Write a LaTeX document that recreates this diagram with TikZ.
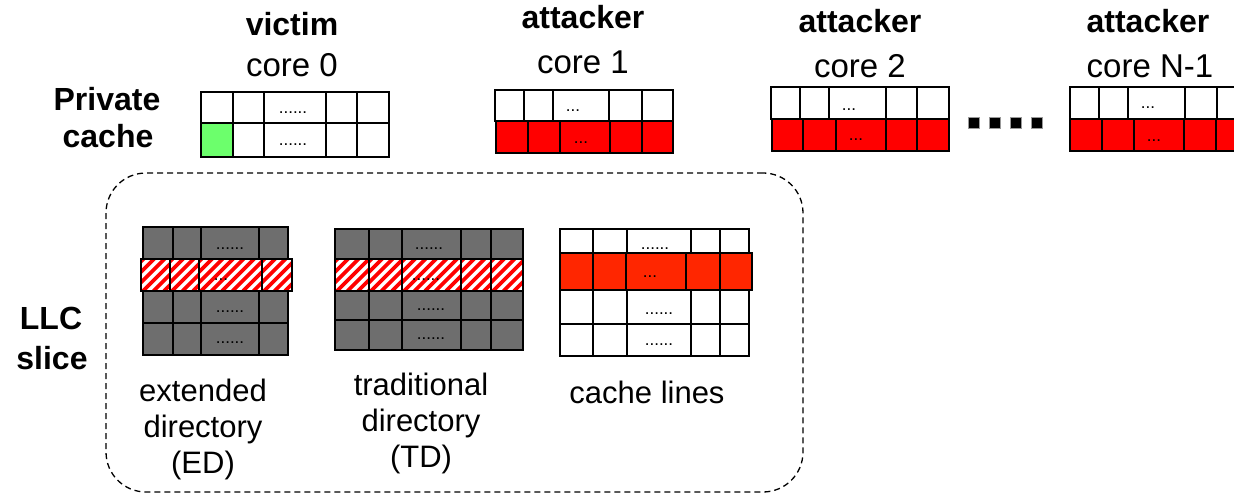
\documentclass[tikz,border=0pt]{standalone}
\usepackage{fontspec}
\setmainfont{Liberation Sans}
\definecolor{cellgray}{RGB}{110,110,110}
\definecolor{hitred}{RGB}{255,0,0}
\definecolor{llcred}{RGB}{255,38,0}
\definecolor{vicgreen}{RGB}{108,255,108}

% a row of cache cells: #1 top, #2 bottom, #3 fill, #4 list of left/right x pairs
\newcommand\cellrow[4]{%
  \foreach \xa/\xb in {#4} {\draw[cellline, fill=#3] (\xa,#1) rectangle (\xb,#2);}}
% a row of red/white hatched directory entries
\newcommand\hatchrow[3]{%
  \foreach \xa/\xb in {#3} {%
    \begin{scope}
      \clip (\xa,#1) rectangle (\xb,#2);
      \fill[white] (\xa,#1) rectangle (\xb,#2);
      \foreach \k in {0,...,12} {\draw[hatch] ({\xa-40+\k*10.5},#2) -- ++(45,-45);}
    \end{scope}
    \draw[cellline] (\xa,#1) rectangle (\xb,#2);}}

\begin{document}
\begin{tikzpicture}[x=1pt,y=-1pt,
  cellline/.style={draw=black, line width=1.8pt},
  hatch/.style={draw=hitred, line width=3.8pt},
  dotlab/.style={inner sep=0pt, font=\fontsize{17}{17}\selectfont},
  boldlab/.style={anchor=base, inner sep=0pt, font=\fontsize{32}{36}\selectfont\bfseries},
  corelab/.style={anchor=base, inner sep=0pt, font=\fontsize{33}{38}\selectfont},
  partlab/.style={anchor=base, inner sep=0pt, font=\fontsize{31}{36}\selectfont},
  llcframe/.style={draw=black, line width=1.3pt, dash pattern=on 6pt off 4pt,
    rounded corners=40pt, inner sep=0pt}]
\useasboundingbox (0,0) rectangle (1234,494);
\clip (0,0) rectangle (1234,494);

% ---------- private caches ----------
% core 0 (victim)
\cellrow{92}{123}{white}{201/233,233/264,264/326,326/357,357/389}
\cellrow{123}{157}{white}{201/233,233/264,264/326,326/357,357/389}
\draw[cellline, fill=vicgreen] (201,123) rectangle (233,157);
\node[dotlab] (d0a) at (293,113) {......};
\node[dotlab] (d0b) at (293,145) {......};

% core 1
\cellrow{90}{121}{white}{495/524,524/553,553/609,609/642,642/673}
\cellrow{121}{153}{hitred}{496/528,528/560,560/610,610/642,642/673}
\node[dotlab] (d1a) at (573,111) {...};
\node[dotlab] (d1b) at (581,143) {...};

% core 2
\cellrow{87}{119}{white}{771/800,800/829,829/886,886/917,917/949}
\cellrow{119}{151}{hitred}{772/803,803/836,836/886,886/917,917/949}
\node[dotlab] (d2a) at (849,110) {...};
\node[dotlab] (d2b) at (856,140) {...};

% core N-1
\cellrow{87}{119}{white}{1070/1099,1099/1128,1128/1185,1185/1217,1217/1249}
\cellrow{119}{151}{hitred}{1070/1102,1102/1134,1134/1184,1184/1216,1216/1249}
\node[dotlab] (dna) at (1148,108) {...};
\node[dotlab] (dnb) at (1154,141) {...};

% ellipsis between core 2 and core N-1
\foreach \x in {968,989,1010,1031} {\draw[fill=black, draw=black!40, line width=0.6pt] (\x,117) rectangle ++(11,11);}

% ---------- core labels ----------
\node[boldlab] (victim) at (292,36) {victim};
\node[corelab] (core0) at (292,77) {core 0};
\node[boldlab] (att1) at (583,29) {attacker};
\node[corelab] (core1) at (583,74) {core 1};
\node[boldlab] (att2) at (860,33) {attacker};
\node[corelab] (core2) at (860,78) {core 2};
\node[boldlab] (attn) at (1148,33) {attacker};
\node[corelab] (coren) at (1150,78) {core N-1};

\node[boldlab] (privA) at (107,111) {Private};
\node[boldlab] (privB) at (108,148) {cache};
\node[boldlab] (llcA) at (51,330) {LLC};
\node[boldlab] (llcB) at (52,369) {slice};

% ---------- LLC slice ----------
\node[llcframe, minimum width=697pt, minimum height=319pt] (llc) at (454.5,332.5) {};

% extended directory
\cellrow{227}{259}{cellgray}{143/173,173/201,201/259,259/288}
\cellrow{291}{323}{cellgray}{143/173,173/201,201/259,259/288}
\cellrow{323}{355}{cellgray}{143/173,173/201,201/259,259/288}
\hatchrow{259}{291}{141/170,170/199,199/262,262/292}
\node[dotlab] (eda) at (230,249) {......};
\node[dotlab] (edb) at (221,280) {...};
\node[dotlab] (edc) at (230,312) {......};
\node[dotlab] (edd) at (230,343) {......};

% traditional directory
\cellrow{229}{259}{cellgray}{335/369,369/402,402/461,461/491,491/523}
\cellrow{291}{320}{cellgray}{335/369,369/402,402/461,461/491,491/523}
\cellrow{320}{350}{cellgray}{335/369,369/402,402/461,461/491,491/523}
\hatchrow{259}{291}{335/369,369/402,402/461,461/491,491/523}
\node[dotlab] (tda) at (429,249) {......};
\node[dotlab] (tdb) at (426,280) {......};
\node[dotlab] (tdc) at (431,310) {......};
\node[dotlab] (tdd) at (431,339) {......};

% cache lines
\cellrow{229}{253}{white}{560/593,593/627,627/691,691/720,720/749}
\cellrow{290}{324}{white}{560/593,593/627,627/691,691/720,720/749}
\cellrow{324}{356}{white}{560/593,593/627,627/691,691/720,720/749}
\cellrow{253}{290}{llcred}{560/593,593/626,626/686,686/720,720/752}
\node[dotlab] (cla) at (655,249) {......};
\node[dotlab] (clb) at (650,277) {...};
\node[dotlab] (clc) at (659,314) {......};
\node[dotlab] (cld) at (659,345) {......};

% part labels
\node[partlab] (edA) at (203,401) {extended};
\node[partlab] (edB) at (203,437) {directory};
\node[partlab] (edC) at (203,473) {(ED)};
\node[partlab] (tdA) at (421,395) {traditional};
\node[partlab] (tdB) at (421,431) {directory};
\node[partlab] (tdC) at (421,467) {(TD)};
\node[partlab] (clA) at (647,403) {cache lines};
\end{tikzpicture}
\end{document}
